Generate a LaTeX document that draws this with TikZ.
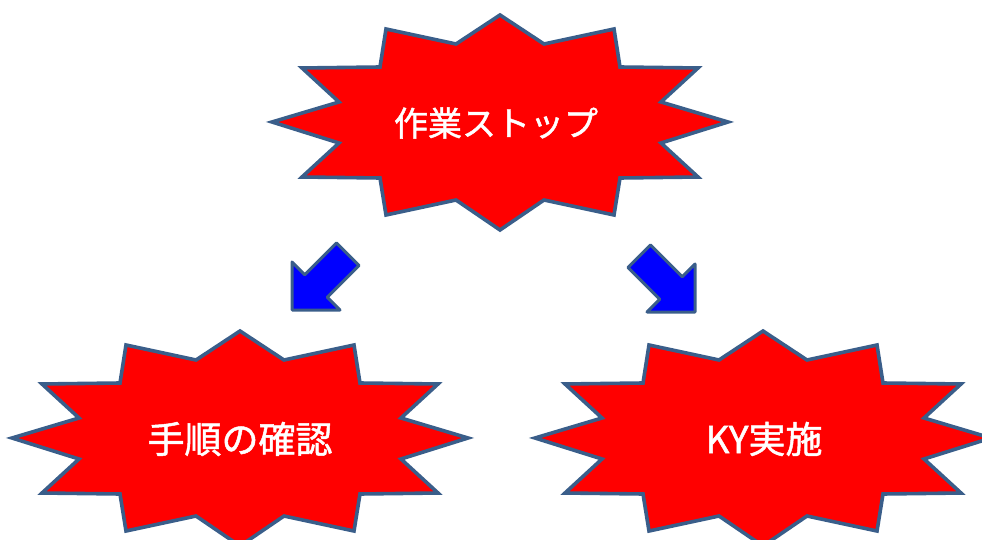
\documentclass[tikz,border=0pt]{standalone}
\usepackage{fontspec}
\newfontfamily\jpfont[FakeBold=1.3]{Noto Sans CJK JP}
\definecolor{burstred}{RGB}{255,0,0}
\definecolor{edgeblue}{RGB}{58,94,138}
\definecolor{arrowblue}{RGB}{0,0,255}
\tikzset{
  burstline/.style={draw=edgeblue, fill=burstred, line width=3.6pt, line join=miter},
  burst/.pic={\path[burstline] (0,-107) -- (44,-78) -- (114,-93) -- (120,-55) -- (198,-54) -- (161,-20) -- (228,0) -- (161,21) -- (198,55) -- (120,56) -- (114,93) -- (44,78) -- (0,108) -- (-44,78) -- (-114,93) -- (-120,56) -- (-198,55) -- (-161,21) -- (-228,0) -- (-161,-20) -- (-198,-54) -- (-120,-55) -- (-114,-93) -- (-44,-78) -- cycle;},
  bursttext/.style={text=white, font=\jpfont\fontsize{34pt}{40pt}\selectfont, inner sep=0pt},
  blockarrow/.style={draw=edgeblue, fill=arrowblue, line width=3pt, line join=round}
}
\begin{document}
\begin{tikzpicture}[x=1pt, y=-1pt]
\useasboundingbox (0,0) rectangle (982,540);
\begin{scope}
\clip (0,0) rectangle (982,540);
\pic at (500,122) {burst};
\pic at (240,438) {burst};
\pic at (763,438) {burst};
\end{scope}
\node[bursttext] (stop) at (496,123) {作業ストップ};
\node[bursttext, font=\jpfont\fontsize{37pt}{43pt}\selectfont] (check) at (240,439) {手順の確認};
\node[bursttext, font=\jpfont\fontsize{37pt}{43pt}\selectfont] (ky) at (764,439) {KY実施};
% block arrows
\path[blockarrow] (292,310) -- (292,262) -- (304.7,274.7) -- (336.5,242.9) -- (359.1,265.5) -- (327.3,297.3) -- (340,310) -- cycle;
\path[blockarrow] (695,312) -- (695,264) -- (682.3,276.7) -- (650.5,244.9) -- (627.9,267.5) -- (659.7,299.3) -- (647,312) -- cycle;
\end{tikzpicture}
\end{document}
